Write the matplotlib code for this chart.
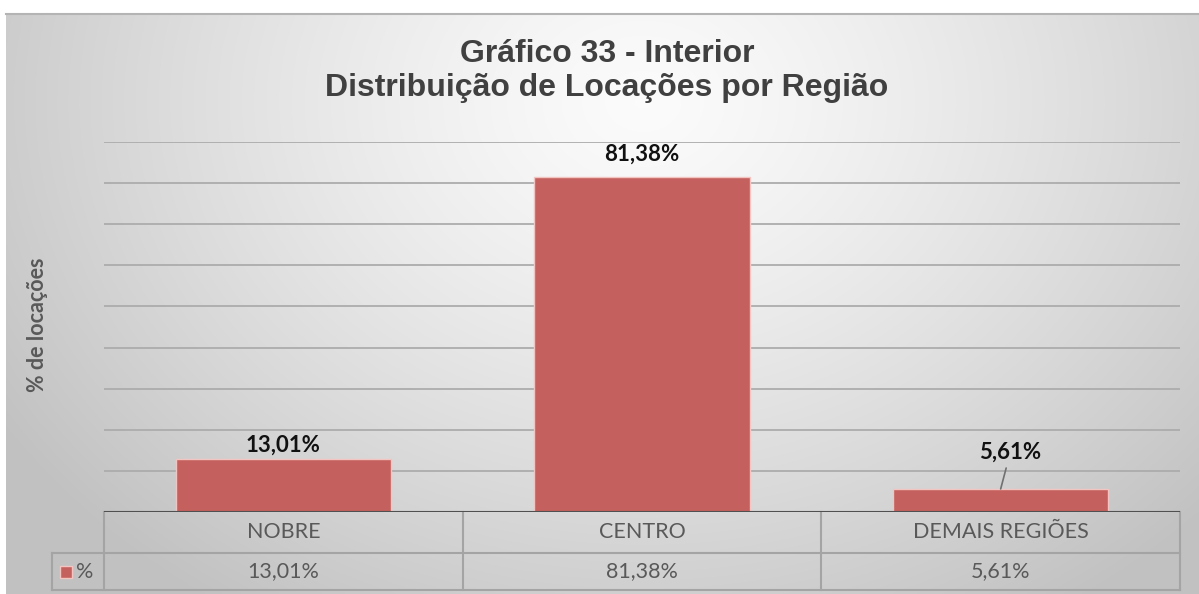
import numpy as np
import matplotlib
matplotlib.use("Agg")
import matplotlib.pyplot as plt
import matplotlib.transforms as mtransforms

# data
categories = ["NOBRE", "CENTRO", "DEMAIS REGIÕES"]
values = [13.01, 81.38, 5.61]
value_labels = ["13,01%", "81,38%", "5,61%"]
series_name = "%"
title = "Gráfico 33 - Interior\nDistribuição de Locações por Região"
ylabel = "% de locações"

W, H = 1199, 594
fig = plt.figure(figsize=(W / 100, H / 100), dpi=100)
fig.patch.set_facecolor("white")

# background gradient
bg = fig.add_axes([0, 0, 1, 1], zorder=-10)
bg.set_xlim(0, W)
bg.set_ylim(H, 0)
bg.axis("off")
yy, xx = np.mgrid[0:H, 0:W]
r = np.sqrt(((xx - 640) / 760.0) ** 2 + ((yy - 90) / 620.0) ** 2)
r = np.clip(r, 0, 1)
shade = 0.985 - (0.985 - 0.76) * r ** 1.3
img = np.dstack([shade, shade, shade])
bg.imshow(img, extent=(6, W, H, 13), aspect="auto", interpolation="bilinear")
bg.plot([6, W], [13.5, 13.5], color="#b4b4b4", lw=1.5)

# main axes
left, right, top, bottom = 104, 1180, 142, 512
ax = fig.add_axes([left / W, 1 - bottom / H, (right - left) / W, (bottom - top) / H])
ax.set_facecolor("none")
x = np.arange(len(categories))
bars = ax.bar(x, values, width=0.6, color="#c4605d", edgecolor="#f2c4c2",
              linewidth=1.0, zorder=3)
ax.set_xlim(-0.5, len(categories) - 0.5)
ax.set_ylim(0, 90)
ax.set_yticks(np.arange(0, 91, 10))
ax.yaxis.grid(True, color="#acacac", lw=1.3, zorder=0)
ax.tick_params(left=False, bottom=False, labelleft=False, labelbottom=False)
for s in ax.spines.values():
    s.set_visible(False)
ax.axhline(0, color="#505050", lw=1.5, zorder=4)

# data labels
label_font = dict(family=["Lato", "DejaVu Sans"], fontsize=16, fontweight="bold", color="#111111")
offsets = [(0, 2), (0, 9), (7, 19)]
for xi, v, lab, off in zip(x, values, value_labels, offsets):
    if off[0] == 0:
        ax.annotate(lab, (xi, v), xytext=off, textcoords="offset points",
                    ha="center", va="bottom", **label_font)
    else:
        ax.annotate(lab, (xi, v), xytext=off, textcoords="offset points",
                    ha="center", va="bottom", **label_font,
                    arrowprops=dict(arrowstyle="-", color="#707070", lw=1.2,
                                    shrinkA=2, shrinkB=0))

# data table
trans = mtransforms.blended_transform_factory(ax.transData, ax.transAxes)
row1 = -41 / (bottom - top)
row2 = -78 / (bottom - top)
xleft = -0.5 - (left - 52) / ((right - left) / len(categories))
line_kw = dict(color="#a4a4a4", lw=1.5, transform=trans, clip_on=False, zorder=2)
for xv in np.arange(-0.5, len(categories), 1.0):
    ax.plot([xv, xv], [0, row2], **line_kw)
ax.plot([xleft, xleft], [row1, row2], **line_kw)
ax.plot([xleft, len(categories) - 0.5], [row1, row1], **line_kw)
ax.plot([xleft, len(categories) - 0.5], [row2, row2], **line_kw)

table_font = dict(family=["Lato", "DejaVu Sans"], fontsize=15.5, color="#595959")
for xi, cat, lab in zip(x, categories, value_labels):
    ax.text(xi, row1 / 2, cat, transform=trans, ha="center", va="center", **table_font)
    ax.text(xi, (row1 + row2) / 2, lab, transform=trans, ha="center", va="center", **table_font)
ax.scatter([xleft + 0.04], [(row1 + row2) / 2], marker="s", s=70, color="#c4605d",
           edgecolor="#f2c4c2", transform=trans, clip_on=False, zorder=5)
ax.text(xleft + 0.068, (row1 + row2) / 2, series_name, transform=trans, ha="left",
        va="center", **table_font)

# title and axis label
fig.text(607 / W, 1 - 71 / H, title, ha="center", va="center", fontsize=23,
         fontweight="bold", color="#404040", family=["Liberation Sans", "DejaVu Sans"],
         linespacing=1.15)
fig.text(38 / W, 1 - 325 / H, ylabel, ha="center", va="center", rotation=90,
         fontsize=15.5, fontweight="bold", color="#595959",
         family=["Lato", "DejaVu Sans"])

fig.savefig("out.png", dpi=100)
